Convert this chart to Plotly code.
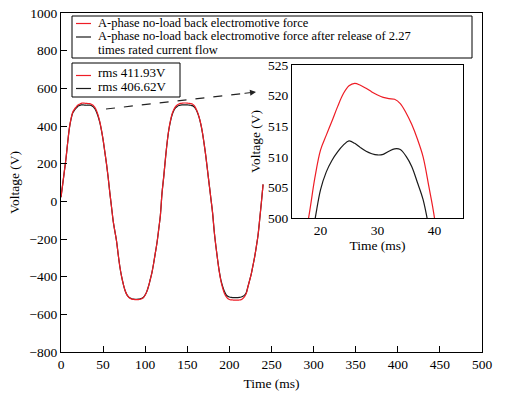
import plotly.graph_objects as go

# ---- data ----
time_ms = [0, 2, 4, 6, 8, 10, 12, 14, 16, 18, 19, 20, 21, 22, 23, 24, 25, 26, 27, 28, 29,
           30, 31, 32, 33, 34, 35, 36, 37, 38, 39, 40, 42, 44, 46, 48, 50, 52, 54, 56, 58,
           60, 62, 64, 66, 68, 70, 72, 74, 76, 78, 80, 82, 84, 86, 88, 90, 92, 94, 96, 98,
           100, 102, 104, 106, 108, 110, 112, 114, 116, 118, 120, 122, 124, 126, 128, 130,
           132, 134, 136, 138, 140, 142, 144, 146, 148, 150, 152, 154, 156, 158, 160, 162,
           164, 166, 168, 170, 172, 174, 176, 178, 180, 182, 184, 186, 188, 190, 192, 194,
           196, 198, 200, 202, 204, 206, 208, 210, 212, 214, 216, 218, 220, 222, 224, 226,
           228, 230, 232, 234, 236, 238, 240]

red_v = [22, 90, 160, 230, 315, 390, 440, 474, 490, 500.5, 506.5, 511.1, 513.5, 515.8, 518.2,
         520.3, 521.6, 522.0, 521.7, 521.2, 520.6, 520.1, 519.7, 519.5, 519.4, 518.7, 517.2,
         515.3, 512.9, 510.0, 505.2, 500.0, 484, 458, 425, 380, 328, 265, 200, 128, 45,
         -30, -105, -160, -212, -285, -350, -400, -440, -472, -494, -507, -515, -519, -521,
         -522, -522, -521.5, -520, -517, -510, -497, -478, -450, -415, -378, -330, -275,
         -220, -150, -75, 45, 130, 225, 310, 380, 428, 465, 488, 503, 512, 517, 520, 521.5,
         522, 522, 521.5, 520.5, 519.5, 517, 509, 495, 475, 448, 412, 365, 305, 240, 165,
         90, 15, -60, -160, -240, -310, -375, -425, -460, -488, -505, -516, -521, -523,
         -524, -525, -525, -525, -524, -522, -516, -506, -490, -455, -420, -385, -340,
         -295, -240, -180, -95, -5, 90]

black_v = [22, 90, 160, 230, 315, 390, 438, 470, 484, 495, 499.6, 504.6, 507.5, 509.4, 510.8,
           511.9, 512.6, 512.2, 511.5, 510.9, 510.5, 510.3, 510.4, 510.9, 511.3, 511.2, 510.1,
           508.4, 505.8, 503.0, 498.5, 493.0, 476, 452, 420, 378, 326, 264, 200, 128, 45,
           -30, -105, -160, -212, -285, -350, -400, -440, -472, -494, -506, -513, -517, -519,
           -520, -520, -519.5, -518, -515, -509, -496, -478, -450, -415, -378, -330, -275,
           -220, -150, -75, 45, 130, 225, 310, 378, 425, 460, 482, 496, 504, 509, 511, 512,
           512.5, 512.5, 512, 511, 510, 508, 502, 490, 472, 446, 410, 364, 305, 240, 165,
           90, 15, -60, -160, -240, -310, -372, -420, -452, -478, -495, -504, -508, -510,
           -511, -511.5, -511.5, -511, -510, -508, -504, -498, -485, -453, -420, -385, -340,
           -295, -240, -180, -95, -5, 90]

legend_lines = ["A-phase no-load back electromotive force",
                "A-phase no-load back electromotive force after release of 2.27",
                "times rated current flow"]
rms_labels = ["rms 411.93V", "rms 406.62V"]

x_ticks = [0, 50, 100, 150, 200, 250, 300, 350, 400, 450, 500]
y_ticks = [-800, -600, -400, -200, 0, 200, 400, 600, 800, 1000]
inset_x_ticks = [20, 30, 40]
inset_y_ticks = [500, 505, 510, 515, 520, 525]

RED = "#ee1c25"
BLACK = "#1a1a1a"
FONT = "Liberation Serif, Times New Roman, DejaVu Serif, serif"

W, H = 507, 397
ML, MR, MT, MB = 61, 25, 13, 45
PW, PH = W - ML - MR, H - MT - MB


def px(xs):
    return (xs - ML) / PW


def py(ys):
    return (H - MB - ys) / PH


fig = go.Figure()

fig.add_trace(go.Scatter(x=time_ms, y=black_v, mode="lines",
                         line=dict(color=BLACK, width=1.2, shape="spline"), showlegend=False))
fig.add_trace(go.Scatter(x=time_ms, y=red_v, mode="lines",
                         line=dict(color=RED, width=1.2, shape="spline"), showlegend=False))
fig.add_trace(go.Scatter(x=time_ms, y=red_v, mode="lines",
                         line=dict(color=RED, width=1.2, shape="spline"),
                         xaxis="x2", yaxis="y2", showlegend=False))
fig.add_trace(go.Scatter(x=time_ms, y=black_v, mode="lines",
                         line=dict(color=BLACK, width=1.2, shape="spline"),
                         xaxis="x2", yaxis="y2", showlegend=False))

axis_common = dict(showline=True, linecolor="black", linewidth=1, mirror=True, showgrid=False,
                   zeroline=False, automargin=False, ticklabeloverflow="allow",
                   tickfont=dict(family=FONT, size=13.5, color="black"),
                   title_font=dict(family=FONT, size=13.5, color="black"))

shapes = []
annotations = []

# legend 1 (manual)
shapes.append(dict(type="rect", xref="paper", yref="paper", x0=px(72), x1=px(472), y0=py(58), y1=py(16),
                   line=dict(color="black", width=1), fillcolor="white"))
shapes.append(dict(type="line", xref="paper", yref="paper", x0=px(76), x1=px(91), y0=py(23.5), y1=py(23.5),
                   line=dict(color=RED, width=1.2)))
shapes.append(dict(type="line", xref="paper", yref="paper", x0=px(76), x1=px(91), y0=py(37), y1=py(37),
                   line=dict(color=BLACK, width=1.2)))
for txt, yc in zip(legend_lines, [22.5, 36, 50]):
    annotations.append(dict(xref="paper", yref="paper", x=px(96), y=py(yc), xanchor="left", yanchor="middle",
                            text=txt, showarrow=False, font=dict(family=FONT, size=12.5, color="black")))

# legend 2 (manual)
shapes.append(dict(type="rect", xref="paper", yref="paper", x0=px(72), x1=px(180), y0=py(97), y1=py(63),
                   line=dict(color="black", width=1), fillcolor="white"))
shapes.append(dict(type="line", xref="paper", yref="paper", x0=px(76), x1=px(91), y0=py(75.5), y1=py(75.5),
                   line=dict(color=RED, width=1.2)))
shapes.append(dict(type="line", xref="paper", yref="paper", x0=px(76), x1=px(91), y0=py(88.5), y1=py(88.5),
                   line=dict(color=BLACK, width=1.2)))
for txt, yc in zip(rms_labels, [72.5, 86.5]):
    annotations.append(dict(xref="paper", yref="paper", x=px(96), y=py(yc), xanchor="left", yanchor="middle",
                            text=txt, showarrow=False, font=dict(family=FONT, size=13, color="black")))

# dashed arrow to inset
shapes.append(dict(type="line", xref="paper", yref="paper", x0=px(106), y0=py(109), x1=px(245), y1=py(93.3),
                   line=dict(color="#222222", width=1.2, dash="dash")))
annotations.append(dict(xref="paper", yref="paper", x=px(256), y=py(92), ax=-13, ay=1.5,
                        showarrow=True, arrowhead=2, arrowsize=1.2, arrowwidth=1,
                        arrowcolor="#222222", text=""))

fig.update_layout(
    width=W, height=H,
    margin=dict(l=ML, r=MR, t=MT, b=MB),
    paper_bgcolor="white", plot_bgcolor="white",
    font=dict(family=FONT, size=13.5, color="black"),
    showlegend=False,
    xaxis=dict(range=[0, 500], tickvals=x_ticks, ticks="inside", ticklen=6, tickcolor="black",
               title=dict(text="Time (ms)", standoff=7), **axis_common),
    yaxis=dict(range=[-800, 1000], tickvals=y_ticks, ticks="inside", ticklen=6, tickcolor="black",
               title=dict(text="Voltage (V)", standoff=6), **axis_common),
    xaxis2=dict(domain=[px(292), px(463)], anchor="y2", range=[15, 45], tickvals=inset_x_ticks,
                ticks="", title=dict(text="Time (ms)", standoff=0), **axis_common),
    yaxis2=dict(domain=[py(218), py(65)], anchor="x2", range=[500, 525], tickvals=inset_y_ticks,
                ticks="", title=dict(text="Voltage (V)", standoff=4), **axis_common),
    shapes=shapes,
    annotations=annotations,
)

fig.write_html("out.html", config={"displayModeBar": False},
               post_script="document.body.style.margin='0';")
